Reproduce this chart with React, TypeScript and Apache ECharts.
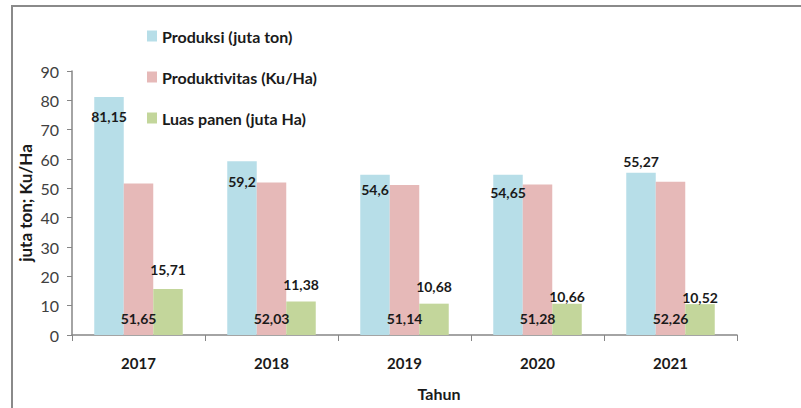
import React, { useEffect, useRef } from "react";
import * as echarts from "echarts";

const categories = ["2017", "2018", "2019", "2020", "2021"];
const produksi = [81.15, 59.2, 54.6, 54.65, 55.27];
const produktivitas = [51.65, 52.03, 51.14, 51.28, 52.26];
const luasPanen = [15.71, 11.38, 10.68, 10.66, 10.52];
const yTicks = [0, 10, 20, 30, 40, 50, 60, 70, 80, 90];

const FONT = "Lato, 'Noto Sans', sans-serif";
const fmt = (v: number) => String(v).replace(".", ",");

export default function App() {
  const ref = useRef<HTMLDivElement>(null);
  useEffect(() => {
    const chart = echarts.init(ref.current!, null, { renderer: "svg" });
    const labelStyle = {
      show: true,
      color: "#1a1a1a",
      fontFamily: FONT,
      fontWeight: "bold" as const,
      fontSize: 14,
      formatter: (p: any) => fmt(p.value),
    };
    const blueOffsets = [13, 13, 8, 11, -999];
    const greenOffsets = [12, 10, 10, 0, 0];
    chart.setOption({
      animation: false,
      backgroundColor: "#ffffff",
      textStyle: { fontFamily: FONT },
      grid: { left: 72, right: 64, top: 71, bottom: 73 },
      legend: {
        orient: "vertical",
        left: 142,
        top: 23,
        itemWidth: 10,
        itemHeight: 11,
        itemGap: 25,
        icon: "rect",
        textStyle: { fontFamily: FONT, fontSize: 16, color: "#1a1a1a", fontWeight: "bold" },
        data: ["Produksi (juta ton)", "Produktivitas (Ku/Ha)", "Luas panen (juta Ha)"],
      },
      xAxis: {
        type: "category",
        data: categories,
        axisLine: { lineStyle: { color: "#868686", width: 1.5 } },
        axisTick: { show: true, length: 6, lineStyle: { color: "#868686" } },
        axisLabel: { color: "#1a1a1a", fontWeight: "bold", fontSize: 15, margin: 20, fontFamily: FONT },
      },
      yAxis: {
        type: "value",
        min: 0,
        max: 90,
        interval: 10,
        splitLine: { show: false },
        axisLine: { show: true, lineStyle: { color: "#868686", width: 1.5 } },
        axisTick: { show: true, length: 5, lineStyle: { color: "#868686" } },
        axisLabel: {
          color: "#404040",
          fontSize: 16,
          margin: 13,
          fontFamily: FONT,
          formatter: (v: number) => (yTicks.includes(v) ? String(v) : ""),
        },
      },
      series: [
        {
          name: "Produksi (juta ton)",
          type: "bar",
          barWidth: 29.5,
          barGap: "0%",
          itemStyle: { color: "#B7DEE8" },
          data: produksi.map((v, i) => ({
            value: v,
            label:
              blueOffsets[i] === -999
                ? { ...labelStyle, position: "top", distance: 4 }
                : { ...labelStyle, position: "insideTop", distance: blueOffsets[i] },
          })),
        },
        {
          name: "Produktivitas (Ku/Ha)",
          type: "bar",
          barWidth: 29.5,
          barGap: "0%",
          itemStyle: { color: "#E6B9B8" },
          label: { ...labelStyle, position: "insideBottom", distance: 10 },
          data: produktivitas,
        },
        {
          name: "Luas panen (juta Ha)",
          type: "bar",
          barWidth: 29.5,
          barGap: "0%",
          itemStyle: { color: "#C3D69B" },
          data: luasPanen.map((v, i) => ({
            value: v,
            label: { ...labelStyle, position: "top", distance: greenOffsets[i] },
          })),
        },
      ],
      graphic: [
        {
          type: "rect",
          shape: { x: 12, y: 6, width: 820, height: 420 },
          style: { fill: "none", stroke: "#8a8a8a", lineWidth: 2 },
          silent: true,
        },
        {
          type: "text",
          x: 25,
          y: 203,
          rotation: Math.PI / 2,
          style: {
            text: "juta ton; Ku/Ha",
            fontFamily: FONT,
            fontSize: 17,
            fontWeight: "bold",
            fill: "#1a1a1a",
            align: "center",
            verticalAlign: "middle",
          },
        },
        {
          type: "text",
          x: 439,
          y: 393,
          style: {
            text: "Tahun",
            fontFamily: FONT,
            fontSize: 16,
            fontWeight: "bold",
            fill: "#1a1a1a",
            align: "center",
            verticalAlign: "middle",
          },
        },
      ],
    });
    return () => chart.dispose();
  }, []);
  return (
    <div
      ref={ref}
      style={{ position: "fixed", left: 0, top: 0, width: 801, height: 408, background: "#fff" }}
    />
  );
}
